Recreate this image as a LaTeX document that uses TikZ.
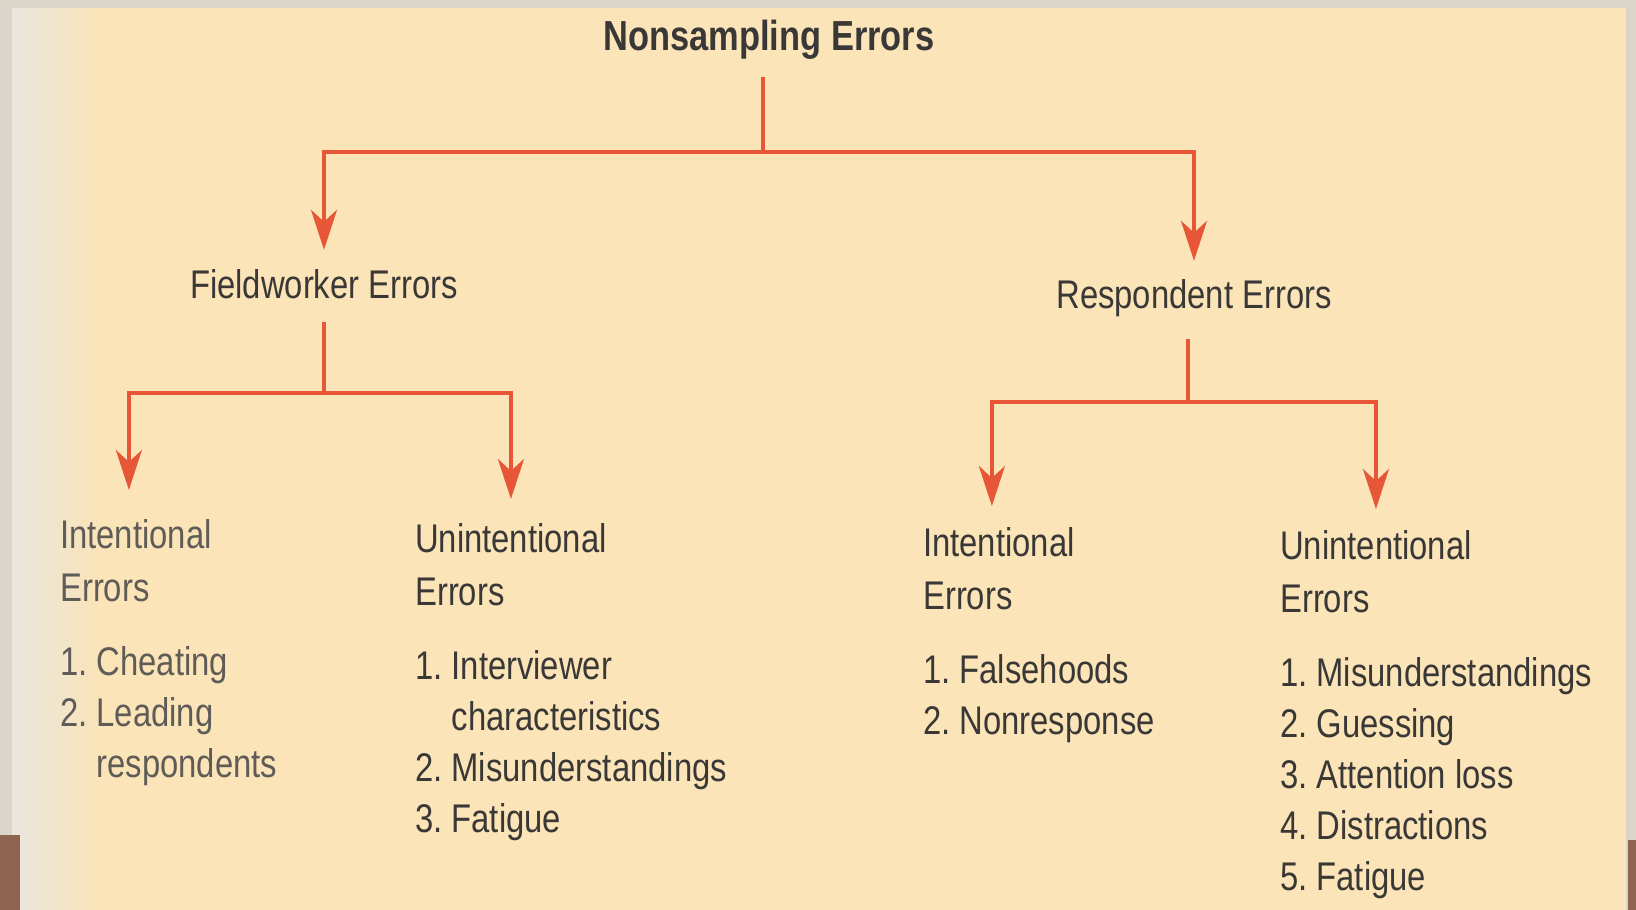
\documentclass[tikz,border=0pt]{standalone}
\usepackage{fontspec}
\setmainfont{Liberation Sans}[FakeStretch=0.82]
\usetikzlibrary{positioning}
\usetikzlibrary{arrows.meta}

\definecolor{paper}{RGB}{250,228,184}
\definecolor{scanedge}{RGB}{218,213,200}
\definecolor{scanbrown}{RGB}{140,100,80}
\definecolor{branch}{RGB}{232,86,56}
\definecolor{ink}{RGB}{58,56,54}
\definecolor{fadedink}{RGB}{95,92,88}

\begin{document}
\frenchspacing
\begin{tikzpicture}[x=1pt, y=-1pt,
    link/.style={draw=branch, line width=4pt},
    arrowlink/.style={link, -{Stealth[length=40pt, width=26pt, inset=12pt]}, shorten >=21pt},
    toptext/.style={inner sep=0pt, text=ink, font=\fontsize{42}{50}\selectfont\bfseries},
    midtext/.style={inner sep=0pt, text=ink, font=\fontsize{40}{53}\selectfont},
    subhead/.style={inner sep=0pt, text=ink, align=left, font=\fontsize{40}{53}\selectfont},
    itemlist/.style={inner sep=0pt, text=ink, align=left, font=\fontsize{40}{51}\selectfont}]

\def \itemgap{45pt}

% scanned page
\fill[paper] (0,0) rectangle (1636,910);
\fill[scanedge] (0,0) rectangle (1636,8);
\fill[scanedge] (0,0) rectangle (12,910);
\fill[scanedge] (1626,0) rectangle (1636,910);
\shade[left color=scanedge!60!white, right color=paper] (12,8) rectangle (100,910);
\fill[scanbrown] (0,835) rectangle (20,910);
\fill[scanbrown] (1628,840) rectangle (1636,910);
\useasboundingbox (0,0) rectangle (1636,910);

\node[toptext, anchor=base] (nonsamp) at (769,50) {Nonsampling Errors};
\node[midtext, anchor=base] (field) at (324,298) {Fieldworker Errors};
\node[midtext, anchor=base] (resp) at (1194,308) {Respondent Errors};

\node[subhead, text=fadedink, anchor=north west] (fint) at (60,519) {Intentional\\Errors};
\node[subhead, anchor=north west] (funint) at (415,523) {Unintentional\\Errors};
\node[subhead, anchor=north west] (rint) at (923,527) {Intentional\\Errors};
\node[subhead, anchor=north west] (runint) at (1280,530) {Unintentional\\Errors};

\node[itemlist, text=fadedink, below right=\itemgap and 0pt of fint.south west] (fintlist)
    {1. Cheating\\2. Leading\\\hphantom{2. }respondents};
\node[itemlist, below right=\itemgap and 0pt of funint.south west] (funintlist)
    {1. Interviewer\\\hphantom{1. }characteristics\\2. Misunderstandings\\3. Fatigue};
\node[itemlist, below right=\itemgap and 0pt of rint.south west] (rintlist)
    {1. Falsehoods\\2. Nonresponse};
\node[itemlist, below right=\itemgap and 0pt of runint.south west] (runintlist)
    {1. Misunderstandings\\2. Guessing\\3. Attention loss\\4. Distractions\\5. Fatigue};

\coordinate (rootsplit) at (763,152);
\coordinate (fsplit) at (324,393);
\coordinate (rsplit) at (1188,402);

\draw[link, shorten <=18pt] (rootsplit |- nonsamp.south) -- (rootsplit);
\draw[arrowlink, shorten >=19pt] (rootsplit) -| (field.north);
\draw[arrowlink, shorten >=18pt] (rootsplit) -| (resp.north);

\draw[link, shorten <=23pt] (field.south) -- (fsplit);
\draw[arrowlink, shorten >=29pt] (fsplit) -| ([xshift=-7pt]fint.north);
\draw[arrowlink, shorten >=24pt] (fsplit) -| (funint.north);

\draw[link, shorten <=22pt] (rsplit |- resp.south) -- (rsplit);
\draw[arrowlink] (rsplit) -| ([xshift=-7pt]rint.north);
\draw[arrowlink] (rsplit) -| (runint.north);

\end{tikzpicture}
\end{document}
